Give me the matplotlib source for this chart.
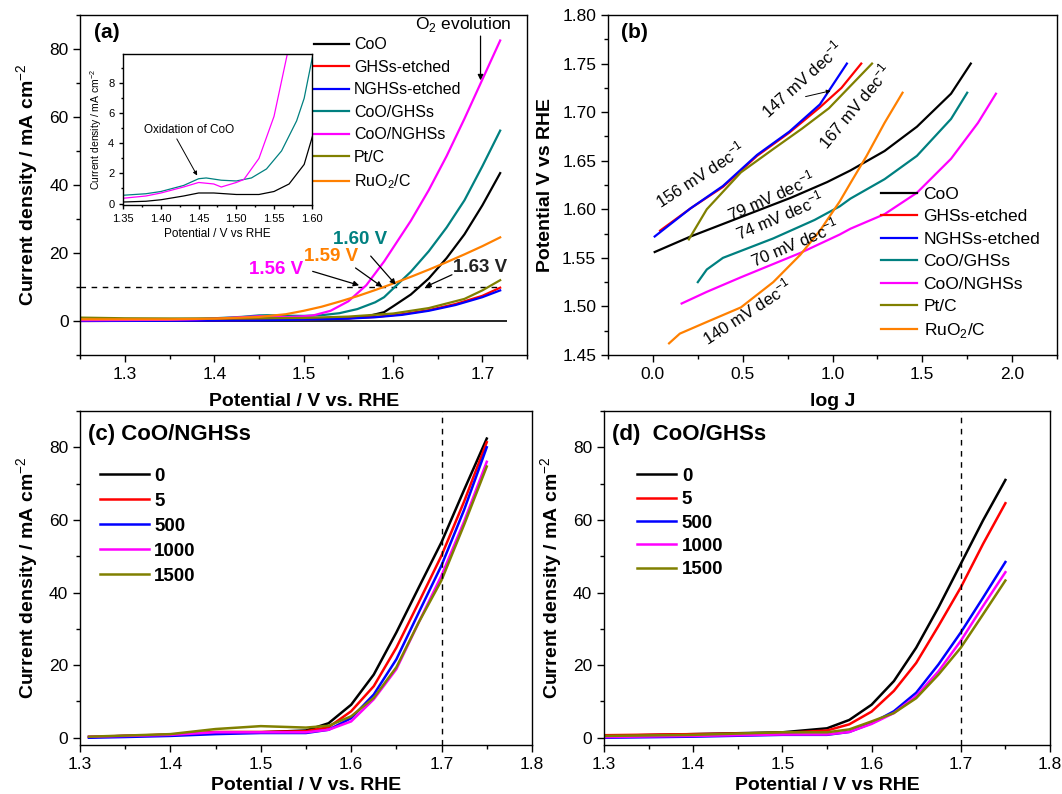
import matplotlib
matplotlib.use('Agg')
import matplotlib.pyplot as plt
from matplotlib.ticker import MultipleLocator, FormatStrFormatter

plt.rcParams['font.family'] = ['Liberation Sans', 'DejaVu Sans']
plt.rcParams['mathtext.fontset'] = 'custom'
plt.rcParams['mathtext.rm'] = 'Liberation Sans'
plt.rcParams['mathtext.bf'] = 'Liberation Sans:bold'
plt.rcParams['axes.linewidth'] = 1.0

# colours used throughout
c_black, c_red, c_blue = 'black', '#ff0000', '#0000ff'
c_teal, c_mag, c_olive, c_orange = '#008080', '#ff00ff', '#808000', '#ff8000'

# ---- (a) polarization curves ----
a_names = ['CoO', 'GHSs-etched', 'NGHSs-etched', 'CoO/GHSs', 'CoO/NGHSs', 'Pt/C', 'RuO$_2$/C']
a_coo_v = [1.25, 1.35, 1.38, 1.40, 1.43, 1.45, 1.47, 1.50, 1.53, 1.55, 1.57, 1.59, 1.60, 1.62, 1.64, 1.66, 1.68, 1.70, 1.72]
a_coo_j = [0.05, 0.1, 0.15, 0.25, 0.5, 0.7, 0.7, 0.6, 0.6, 0.8, 1.3, 2.6, 4.3, 7.8, 12.5, 18.5, 25.5, 34, 43.5]
a_etch_v = [1.25, 1.35, 1.45, 1.50, 1.55, 1.58, 1.61, 1.64, 1.67, 1.70, 1.72]
a_ghs_etch_j = [0.0, 0.1, 0.3, 0.5, 0.8, 1.2, 2.0, 3.2, 5.0, 7.4, 9.8]
a_nghs_etch_j = [0.0, 0.05, 0.2, 0.4, 0.7, 1.1, 1.8, 3.0, 4.7, 7.0, 9.0]
a_cghs_v = [1.25, 1.35, 1.38, 1.40, 1.43, 1.45, 1.46, 1.48, 1.50, 1.52, 1.54, 1.56, 1.58, 1.59, 1.60, 1.62, 1.64, 1.66, 1.68, 1.70, 1.72]
a_cghs_j = [0.3, 0.55, 0.65, 0.8, 1.2, 1.65, 1.7, 1.55, 1.5, 1.7, 2.3, 3.5, 5.5, 7.0, 9.5, 14.5, 20.5, 27.5, 35.5, 45.5, 56]
a_cnghs_v = [1.25, 1.35, 1.38, 1.40, 1.43, 1.45, 1.47, 1.48, 1.50, 1.51, 1.53, 1.55, 1.57, 1.59, 1.62, 1.64, 1.66, 1.68, 1.70, 1.72]
a_cnghs_j = [0.2, 0.35, 0.5, 0.7, 1.1, 1.4, 1.3, 1.1, 1.4, 1.6, 3.0, 5.8, 10.5, 17.5, 29.5, 38.5, 48.5, 59.5, 71, 82.5]
a_ptc_v = [1.25, 1.30, 1.40, 1.50, 1.55, 1.60, 1.64, 1.68, 1.70, 1.72]
a_ptc_j = [1.0, 0.8, 0.7, 0.9, 1.3, 2.2, 3.8, 6.5, 9.0, 12.0]
a_ruo_v = [1.25, 1.35, 1.40, 1.45, 1.48, 1.50, 1.52, 1.54, 1.56, 1.58, 1.60, 1.62, 1.64, 1.66, 1.68, 1.70, 1.72]
a_ruo_j = [0.5, 0.5, 0.7, 1.2, 2.0, 3.0, 4.2, 5.7, 7.3, 9.1, 11.0, 13.0, 15.1, 17.3, 19.6, 22.0, 24.6]

# ---- (b) Tafel plots ----
b_coo_x = [0.01, 0.21, 0.49, 0.77, 0.97, 1.10, 1.29, 1.47, 1.66, 1.77]
b_coo_y = [1.556, 1.572, 1.592, 1.612, 1.628, 1.640, 1.660, 1.685, 1.719, 1.750]
b_ghs_x = [0.04, 0.21, 0.39, 0.58, 0.76, 0.93, 1.05, 1.16]
b_ghs_y = [1.578, 1.601, 1.623, 1.655, 1.679, 1.705, 1.725, 1.750]
b_nghs_x = [0.01, 0.21, 0.39, 0.58, 0.76, 0.93, 1.08]
b_nghs_y = [1.572, 1.601, 1.624, 1.656, 1.680, 1.708, 1.750]
b_cghs_x = [0.25, 0.30, 0.39, 0.67, 0.90, 1.04, 1.10, 1.29, 1.47, 1.66, 1.75]
b_cghs_y = [1.525, 1.538, 1.550, 1.570, 1.589, 1.603, 1.611, 1.631, 1.655, 1.693, 1.720]
b_cnghs_x = [0.16, 0.30, 0.49, 0.82, 1.04, 1.10, 1.29, 1.47, 1.66, 1.81, 1.91]
b_cnghs_y = [1.503, 1.515, 1.530, 1.555, 1.574, 1.580, 1.595, 1.617, 1.652, 1.689, 1.719]
b_ptc_x = [0.20, 0.30, 0.49, 0.67, 0.83, 0.98, 1.10, 1.22]
b_ptc_y = [1.569, 1.600, 1.638, 1.662, 1.683, 1.704, 1.727, 1.750]
b_ruo_x = [0.09, 0.15, 0.30, 0.49, 0.67, 0.82, 0.93, 1.04, 1.10, 1.19, 1.29, 1.39]
b_ruo_y = [1.462, 1.472, 1.484, 1.499, 1.525, 1.553, 1.578, 1.608, 1.627, 1.655, 1.689, 1.720]
b_slopes = ['156', '147', '167', '79', '74', '70', '140']

# ---- (c), (d) stability ----
cycles = ['0', '5', '500', '1000', '1500']
cyc_colors = [c_black, c_red, c_blue, c_mag, c_olive]
c_v = [1.31, 1.35, 1.40, 1.45, 1.50, 1.55, 1.575, 1.60, 1.625, 1.65, 1.675, 1.70, 1.725, 1.75]
c_j = [
    [0.2, 0.5, 0.8, 1.3, 1.5, 2.0, 4.0, 9.1, 17.4, 29.0, 41.5, 53.9, 68.3, 82.4],
    [0.2, 0.5, 0.9, 1.6, 1.6, 1.8, 2.9, 7.3, 14.2, 24.8, 37.4, 50.2, 65.1, 81.4],
    [0.0, 0.2, 0.5, 1.0, 1.3, 1.3, 2.2, 5.4, 11.9, 21.6, 34.6, 47.5, 62.8, 80.0],
    [0.3, 0.5, 0.8, 1.5, 1.5, 1.5, 2.2, 4.5, 10.6, 18.9, 31.9, 44.7, 59.6, 76.0],
    [0.3, 0.6, 1.0, 2.4, 3.2, 2.8, 3.3, 5.9, 11.0, 19.4, 31.9, 43.4, 58.7, 74.7],
]
d_v = [1.30, 1.40, 1.50, 1.55, 1.575, 1.60, 1.625, 1.65, 1.675, 1.70, 1.725, 1.75]
d_j = [
    [0.5, 1.0, 1.5, 2.6, 4.9, 9.1, 15.6, 24.8, 35.9, 47.9, 59.9, 71.0],
    [0.7, 1.0, 1.3, 2.0, 3.7, 7.2, 12.9, 20.6, 30.8, 41.4, 53.4, 64.6],
    [0.0, 0.3, 0.8, 0.8, 1.6, 4.0, 7.3, 12.4, 20.2, 29.0, 38.6, 48.4],
    [0.2, 0.5, 0.9, 0.9, 1.6, 3.8, 6.8, 11.5, 18.3, 26.7, 36.3, 45.6],
    [0.5, 0.8, 1.5, 1.5, 2.3, 4.5, 6.8, 10.9, 17.4, 24.8, 34.0, 43.3],
]


def style(ax, xmaj, xmin_, ymaj, ymin_, xfmt, yfmt, size=12.5):
    ax.xaxis.set_major_locator(MultipleLocator(xmaj))
    ax.xaxis.set_minor_locator(MultipleLocator(xmin_))
    ax.yaxis.set_major_locator(MultipleLocator(ymaj))
    ax.yaxis.set_minor_locator(MultipleLocator(ymin_))
    ax.xaxis.set_major_formatter(FormatStrFormatter(xfmt))
    ax.yaxis.set_major_formatter(FormatStrFormatter(yfmt))
    ax.tick_params(which='both', direction='out', top=False, right=False, width=1, labelsize=size)
    ax.tick_params(which='major', length=5)
    ax.tick_params(which='minor', length=3)


fig = plt.figure(figsize=(10.62, 7.94), dpi=100)
axa = fig.add_axes([0.0758, 0.5529, 0.4204, 0.4282])
axb = fig.add_axes([0.5725, 0.5529, 0.4228, 0.4282])
axc = fig.add_axes([0.0753, 0.0617, 0.4256, 0.4207])
axd = fig.add_axes([0.5687, 0.0617, 0.4200, 0.4207])
axi = fig.add_axes([0.1161, 0.7418, 0.1774, 0.1902])

lab = dict(fontsize=14, fontweight='bold')

# ---------- panel (a) ----------
lw = 1.6
axa.hlines(0, 1.25, 1.728, color='k', lw=1.2)
axa.hlines(10, 1.25, 1.72, color='k', lw=1.0, linestyles=(0, (4, 4)))
axa.plot(a_coo_v, a_coo_j, color=c_black, lw=lw, label=a_names[0])
axa.plot(a_etch_v, a_ghs_etch_j, color=c_red, lw=lw, label=a_names[1])
axa.plot(a_etch_v, a_nghs_etch_j, color=c_blue, lw=lw, label=a_names[2])
axa.plot(a_cghs_v, a_cghs_j, color=c_teal, lw=lw, label=a_names[3])
axa.plot(a_cnghs_v, a_cnghs_j, color=c_mag, lw=lw, label=a_names[4])
axa.plot(a_ptc_v, a_ptc_j, color=c_olive, lw=lw, label=a_names[5])
axa.plot(a_ruo_v, a_ruo_j, color=c_orange, lw=lw, label=a_names[6])
axa.set_xlim(1.25, 1.75)
axa.set_ylim(-10, 90)
style(axa, 0.1, 0.05, 20, 10, '%.1f', '%d')
axa.set_xlabel('Potential / V vs. RHE', labelpad=8, **lab)
axa.set_ylabel('Current density / mA cm$^{-2}$', labelpad=6, **lab)
axa.text(0.03, 0.95, '(a)', transform=axa.transAxes, fontsize=15, fontweight='bold', va='center')
axa.legend(loc='upper left', bbox_to_anchor=(0.523, 0.935), frameon=False, fontsize=11.5,
           handlelength=2.2, handletextpad=0.3, labelspacing=0.47, borderpad=0, borderaxespad=0)

axa.text(1.679, 87.3, 'O$_2$ evolution', fontsize=12.5, ha='center', va='center')
arw = dict(arrowstyle='-|>', color='k', lw=0.9, mutation_scale=8, shrinkA=0, shrinkB=0)
axa.annotate('', xy=(1.698, 70.8), xytext=(1.698, 83.8), arrowprops=arw)
vlabels = [('1.60 V', c_teal, 1.5635, 24.1, (1.575, 19.1), (1.603, 10.7)),
           ('1.59 V', c_orange, 1.531, 19.1, (1.558, 15.6), (1.588, 10.0)),
           ('1.56 V', c_mag, 1.469, 15.1, (1.510, 14.6), (1.562, 10.5)),
           ('1.63 V', '#222222', 1.698, 15.6, (1.666, 13.6), (1.636, 10.0))]
for t, col, tx, ty, p0, p1 in vlabels:
    axa.text(tx, ty, t, color=col, fontsize=13.5, fontweight='bold', ha='center', va='center')
    axa.annotate('', xy=p1, xytext=p0, arrowprops=arw)

# inset
axi.plot(a_coo_v, a_coo_j, color=c_black, lw=0.9)
axi.plot(a_cghs_v, a_cghs_j, color=c_teal, lw=0.9)
axi.plot(a_cnghs_v, a_cnghs_j, color=c_mag, lw=0.9)
axi.set_xlim(1.35, 1.60)
axi.set_ylim(-0.1, 9.95)
style(axi, 0.05, 0.025, 2, 1, '%.2f', '%d', size=8)
axi.tick_params(which='major', length=3)
axi.tick_params(which='minor', length=1.5)
axi.set_xlabel('Potential / V vs RHE', fontsize=8.5, labelpad=3)
axi.set_ylabel('Current density / mA cm$^{-2}$', fontsize=7.5, labelpad=3)
axi.text(1.4375, 4.9, 'Oxidation of CoO', fontsize=8.5, ha='center', va='center')
axi.annotate('', xy=(1.448, 1.86), xytext=(1.421, 4.3),
             arrowprops=dict(arrowstyle='-|>', color='k', lw=0.7, mutation_scale=6, shrinkA=0, shrinkB=0))

# ---------- panel (b) ----------
axb.plot(b_coo_x, b_coo_y, color=c_black, lw=lw, label=a_names[0])
axb.plot(b_ghs_x, b_ghs_y, color=c_red, lw=lw, label=a_names[1])
axb.plot(b_nghs_x, b_nghs_y, color=c_blue, lw=lw, label=a_names[2])
axb.plot(b_cghs_x, b_cghs_y, color=c_teal, lw=lw, label=a_names[3])
axb.plot(b_cnghs_x, b_cnghs_y, color=c_mag, lw=lw, label=a_names[4])
axb.plot(b_ptc_x, b_ptc_y, color=c_olive, lw=lw, label=a_names[5])
axb.plot(b_ruo_x, b_ruo_y, color=c_orange, lw=lw, label=a_names[6])
axb.set_xlim(-0.25, 2.25)
axb.set_ylim(1.45, 1.80)
style(axb, 0.5, 0.25, 0.05, 0.025, '%.1f', '%.2f')
axb.set_xlabel('log J', labelpad=8, **lab)
axb.set_ylabel('Potential V vs RHE', labelpad=6, **lab)
axb.text(0.03, 0.95, '(b)', transform=axb.transAxes, fontsize=15, fontweight='bold', va='center')
axb.legend(loc='upper left', bbox_to_anchor=(0.608, 0.495), frameon=False, fontsize=12.5,
           handlelength=2.1, handletextpad=0.35, labelspacing=0.42, borderpad=0, borderaxespad=0)
slope_pos = [(0.262, 1.636, 33), (0.83, 1.734, 42), (1.123, 1.706, 50),
             (0.657, 1.614, 24), (0.705, 1.594, 23), (0.787, 1.566, 23), (0.524, 1.495, 33)]
for s, (sx, sy, rot) in zip(b_slopes, slope_pos):
    axb.text(sx, sy, s + ' mV dec$^{-1}$', fontsize=12, rotation=rot,
             rotation_mode='anchor', ha='center', va='center')
axb.annotate('', xy=(0.99, 1.722), xytext=(0.85, 1.716),
             arrowprops=dict(arrowstyle='-|>', color='k', lw=0.7, mutation_scale=6, shrinkA=0, shrinkB=0))

# ---------- panels (c), (d) ----------
for ax, v, jj, title, xl, lx, hl, ly, ls in [
        (axc, c_v, c_j, '(c) CoO/NGHSs', 'Potential / V vs. RHE', 0.044, 2.6, 0.83, 0.42),
        (axd, d_v, d_j, '(d)  CoO/GHSs', 'Potential / V vs RHE', 0.074, 2.1, 0.83, 0.33)]:
    for j, col, name in zip(jj, cyc_colors, cycles):
        ax.plot(v, j, color=col, lw=1.8, label=name)
    ax.set_xlim(1.3, 1.8)
    ax.set_ylim(-2, 90)
    ax.axvline(1.7, color='k', lw=1.0, ls=(0, (4, 4)))
    style(ax, 0.1, 0.05, 20, 10, '%.1f', '%d')
    ax.set_xlabel(xl, labelpad=4, **lab)
    ax.set_ylabel('Current density / mA cm$^{-2}$', labelpad=6, **lab)
    ax.text(0.018, 0.931, title, transform=ax.transAxes, fontsize=16, fontweight='bold', va='center')
    ax.legend(loc='upper left', bbox_to_anchor=(lx, ly), frameon=False,
              prop=dict(size=13.5, weight='bold'), handlelength=hl, handletextpad=0.3,
              labelspacing=ls, borderpad=0, borderaxespad=0)

fig.savefig('out.png', dpi=100)
